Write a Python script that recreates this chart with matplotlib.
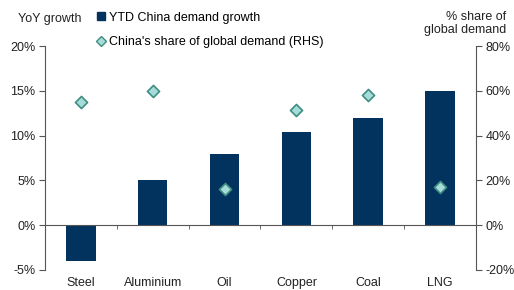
import matplotlib.pyplot as plt
from matplotlib.lines import Line2D
from matplotlib.patches import Patch
import numpy as np

plt.rcParams['font.family'] = ['Liberation Sans', 'DejaVu Sans']
plt.rcParams['font.size'] = 9

categories = ["Steel", "Aluminium", "Oil", "Copper", "Coal", "LNG"]
growth = [-4.0, 5.0, 8.0, 10.4, 12.0, 15.0]       # YTD China demand growth, %
share = [55.0, 60.0, 16.0, 51.5, 58.0, 17.0]     # China's share of global demand, % (RHS)

bar_col = "#02335f"
dia_face = "#a5dcda"
dia_edge = "#3f8d80"
txt = "#222222"

fig = plt.figure(figsize=(5.14, 2.9), dpi=100)
ax = fig.add_axes([0.0875, 0.069, 0.8385, 0.772])
x = np.arange(len(categories))

ax.bar(x, growth, width=0.41, color=bar_col, zorder=2)
ax.set_xlim(-0.5, len(categories) - 0.5)
ax.set_ylim(-5, 20)
ax.set_yticks([-5, 0, 5, 10, 15, 20])
ax.set_yticklabels([f"{v}%" for v in [-5, 0, 5, 10, 15, 20]])

# zero line with category separators
ax.spines['bottom'].set_position(('data', 0))
ax.spines['top'].set_visible(False)
ax.spines['right'].set_visible(False)
for s in ['left', 'bottom']:
    ax.spines[s].set_color("#555555")
    ax.spines[s].set_linewidth(0.8)
ax.set_xticks(x)
ax.set_xticklabels([])
ax.set_xticks(x[:-1] + 0.5, minor=True)
ax.tick_params(axis='x', which='major', length=0)
ax.tick_params(axis='x', which='minor', length=3, direction='out', color="#555555")
ax.tick_params(axis='y', length=4, direction='out', color="#555555", labelcolor=txt, pad=3)

sec = ax.secondary_xaxis(location=0)
sec.set_xticks(x)
sec.set_xticklabels(categories, color=txt)
sec.tick_params(length=0, pad=5)
sec.spines['bottom'].set_visible(False)

ax2 = ax.twinx()
ax2.set_ylim(-20, 80)
ax2.set_yticks([-20, 0, 20, 40, 60, 80])
ax2.set_yticklabels([f"{v}%" for v in [-20, 0, 20, 40, 60, 80]])
ax2.scatter(x, share, marker='D', s=38, color=dia_face, edgecolor=dia_edge, linewidths=1.2, zorder=3)
for s in ['top', 'left', 'bottom']:
    ax2.spines[s].set_visible(False)
ax2.spines['right'].set_color("#555555")
ax2.spines['right'].set_linewidth(0.8)
ax2.tick_params(axis='y', length=4, direction='out', color="#555555", labelcolor=txt, pad=3)

fig.text(0.035, 0.935, "YoY growth", ha='left', va='center', color=txt)
fig.text(0.985, 0.92, "% share of\nglobal demand", ha='right', va='center', color=txt,
         linespacing=1.1)

handles = [Patch(facecolor=bar_col, edgecolor=bar_col),
           Line2D([], [], marker='D', linestyle='none', markersize=5,
                  markerfacecolor=dia_face, markeredgecolor=dia_edge, markeredgewidth=1.0)]
labels = ["YTD China demand growth", "China's share of global demand (RHS)"]
fig.legend(handles, labels, loc='upper left', bbox_to_anchor=(0.175, 0.985), frameon=False,
           handlelength=0.6, handleheight=0.6, handletextpad=0.3, labelspacing=1.0,
           borderaxespad=0.2, fontsize=9)

fig.savefig("out.png", dpi=100)
